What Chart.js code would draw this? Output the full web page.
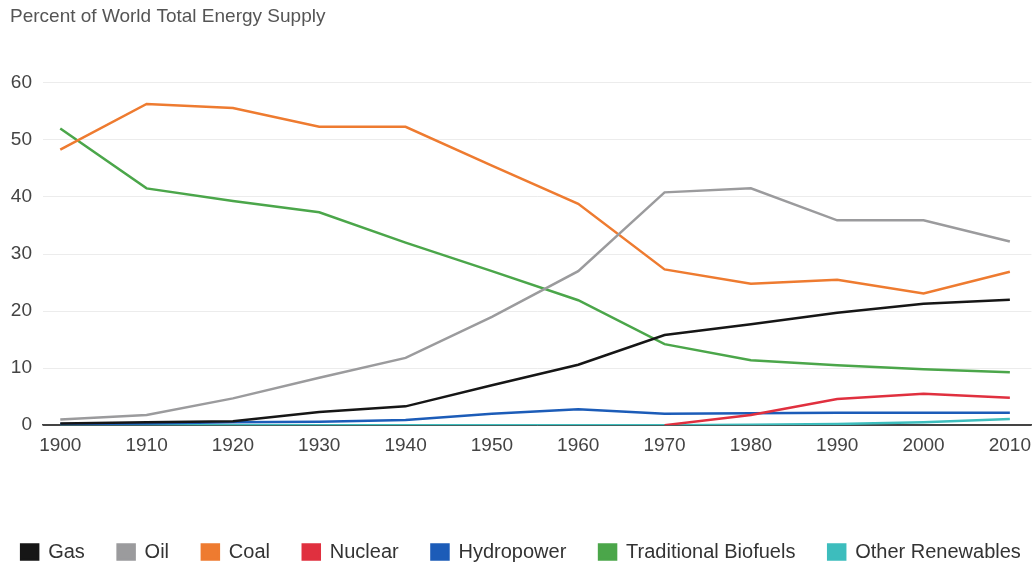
<!DOCTYPE html>
<html>
<head>
<meta charset="utf-8">
<script src="https://cdn.jsdelivr.net/npm/chart.js@4/dist/chart.umd.min.js"></script>
<style>
  html, body { margin: 0; padding: 0; background: #fff; }
  #wrap { width: 1032px; height: 564px; position: relative; }
</style>
</head>
<body>
<div id="wrap"><canvas id="energyChart"></canvas></div>
<script>
// data
const years = [1900, 1910, 1920, 1930, 1940, 1950, 1960, 1970, 1980, 1990, 2000, 2010];

const gas        = [0.3, 0.5, 0.7, 2.3, 3.3, 7.0, 10.6, 15.8, 17.7, 19.7, 21.3, 22.0];
const oil        = [1.0, 1.8, 4.7, 8.3, 11.8, 19.0, 27.0, 40.8, 41.5, 35.9, 35.9, 32.2];
const coal       = [48.3, 56.3, 55.6, 52.3, 52.3, 45.5, 38.8, 27.3, 24.8, 25.5, 23.1, 26.9];
const nuclear    = [null, null, null, null, null, null, null, 0, 1.8, 4.6, 5.5, 4.8];
const hydro      = [0.2, 0.3, 0.5, 0.6, 0.9, 2.0, 2.8, 2.0, 2.1, 2.2, 2.2, 2.2];
const biofuels   = [52.0, 41.5, 39.3, 37.3, 32.0, 27.0, 21.9, 14.2, 11.4, 10.5, 9.8, 9.3];
const renewables = [0, 0, 0, 0, 0, 0, 0, 0, 0.1, 0.2, 0.5, 1.1];

const yTicks = [0, 10, 20, 30, 40, 50, 60];

const series = [
    { label: 'Gas', values: gas, color: '#161616' },
    { label: 'Oil', values: oil, color: '#9b9b9d' },
    { label: 'Coal', values: coal, color: '#ee7b30' },
    { label: 'Nuclear', values: nuclear, color: '#e0303f' },
    { label: 'Hydropower', values: hydro, color: '#1c5cb8' },
    { label: 'Traditional Biofuels', values: biofuels, color: '#4ba64a' },
    { label: 'Other Renewables', values: renewables, color: '#3dbdbd' }
];

function toPoints(values) {
    return years.map((yr, i) => ({ x: yr, y: values[i] }));
}

// reserve room above the legend row and push the row down into it
const LEGEND_GAP = 20;
const legendShift = {
    id: 'legendShift',
    beforeInit(chart) {
        const fit = chart.legend.fit;
        chart.legend.fit = function () {
            fit.bind(chart.legend)();
            this.height += LEGEND_GAP - 8;
        };
    },
    afterLayout(chart) {
        chart.legend.top += LEGEND_GAP;
    }
};

Chart.defaults.font.family = 'Arial, "Liberation Sans", Helvetica, sans-serif';

const ctx = document.getElementById('energyChart').getContext('2d');

new Chart(ctx, {
    type: 'line',
    data: {
        datasets: series.map(s => ({
            label: s.label,
            data: toPoints(s.values),
            borderColor: s.color,
            backgroundColor: s.color,
            borderWidth: 2.5,
            pointRadius: 0,
            tension: 0,
            spanGaps: false
        }))
    },
    options: {
        responsive: true,
        maintainAspectRatio: false,
        animation: false,
        layout: { padding: { left: 10, right: 0, top: 0, bottom: 0 } },
        plugins: {
            title: {
                display: true,
                text: 'Percent of World Total Energy Supply',
                align: 'start',
                color: '#555',
                font: { size: 19, weight: 'normal' },
                padding: { top: 5, bottom: 55 }
            },
            legend: {
                position: 'bottom',
                labels: {
                    color: '#333',
                    font: { size: 20 },
                    boxWidth: 17,
                    boxHeight: 15,
                    padding: 5,
                    // wider gaps between items without wrapping the row
                    generateLabels: chart => {
                        const items = Chart.defaults.plugins.legend.labels.generateLabels(chart);
                        items.forEach((it, i) => {
                            if (i < items.length - 1) it.text += '\u00a0\u00a0\u00a0\u00a0\u00a0';
                        });
                        return items;
                    }
                }
            },
            tooltip: { enabled: false }
        },
        scales: {
            x: {
                type: 'linear',
                min: 1898,
                max: 2012.5,
                afterBuildTicks: scale => {
                    scale.ticks = years.map(v => ({ value: v }));
                },
                afterFit: scale => {
                    scale.height += 59;
                },
                grid: { display: false },
                border: { display: true, color: '#444', width: 1.5 },
                ticks: {
                    color: '#444',
                    font: { size: 19 },
                    padding: 1,
                    maxRotation: 0,
                    callback: v => String(v)
                }
            },
            y: {
                min: 0,
                max: 60,
                afterBuildTicks: scale => {
                    scale.ticks = yTicks.map(v => ({ value: v }));
                },
                afterFit: scale => {
                    scale.width = 33;
                },
                border: { display: false },
                grid: {
                    color: c => c.tick && c.tick.value === 0 ? '#444' : '#ececec',
                    lineWidth: 1,
                    drawTicks: false
                },
                ticks: {
                    color: '#444',
                    font: { size: 19 },
                    padding: 11
                }
            }
        }
    },
    plugins: [legendShift]
});
</script>
</body>
</html>
